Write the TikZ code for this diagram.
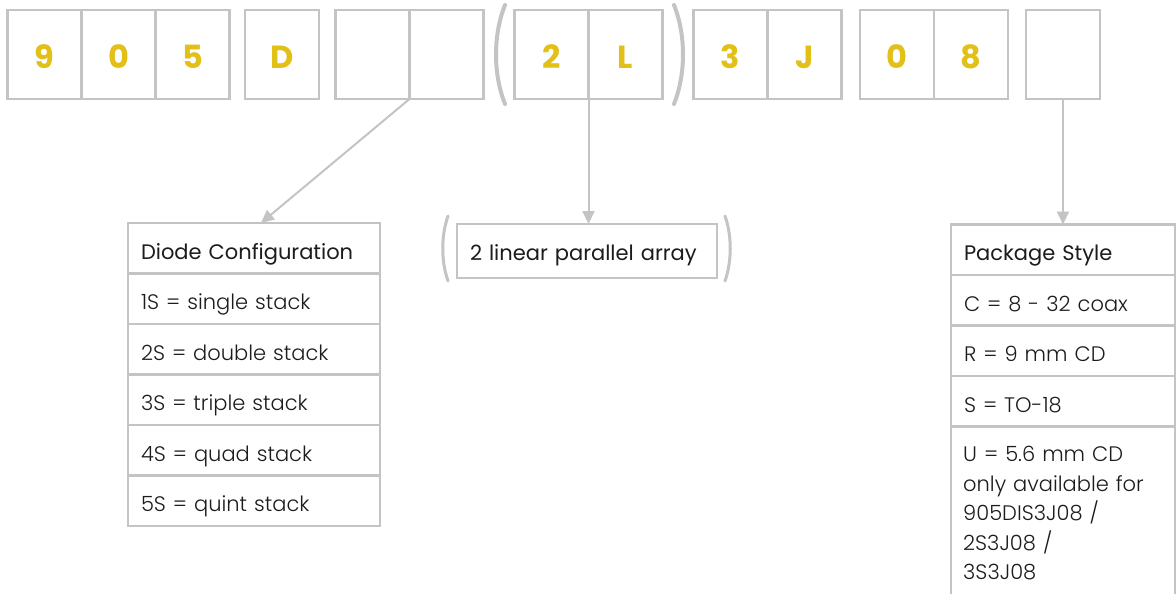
\documentclass[tikz,border=0pt]{standalone}
\usepackage{fontspec}
\setmainfont{Poppins}
\newfontfamily\lightf{Poppins Light}
\usetikzlibrary{arrows.meta}
\definecolor{lg}{RGB}{196,196,196}
\definecolor{yel}{RGB}{226,192,24}
\definecolor{txt}{RGB}{28,28,28}
\begin{document}
\begin{tikzpicture}[x=1pt,y=-1pt,
  cell/.style={draw=lg,line width=2.5pt,minimum width=74pt,minimum height=89pt,inner sep=0pt,outer sep=0pt,
    text height=29pt,text depth=0pt,
    font=\fontsize{32}{34}\selectfont\bfseries,text=yel},
  trow/.style={draw=lg,line width=2.5pt,minimum height=50.5pt,inner xsep=13pt,inner ysep=0pt,outer sep=0pt,
    text width=#1,align=left,text height=30pt,text depth=8.5pt,text=txt,anchor=north west,
    font=\lightf\fontsize{21}{25}\selectfont},
  thead/.style={trow=#1,font=\fontsize{21}{25}\selectfont},
  conn/.style={draw=lg,line width=2pt,-{Triangle[length=13pt,width=12pt]}},
  paren/.style={draw=lg,line width=4pt,line cap=round},
  sparen/.style={draw=lg,line width=3pt,line cap=round}]
\clip (0,0) rectangle (1176,594);
\fill[white] (0,0) rectangle (1176,594);
% top code cells
\node[cell] (c9) at (44.5,54.5) {9};
\node[cell] (c0) at (118.5,54.5) {0};
\node[cell] (c5) at (192.5,54.5) {5};
\node[cell] (cD) at (282,54.5) {D};
\node[cell] (e1) at (372.5,54.5) {};
\node[cell] (e2) at (446.5,54.5) {};
\node[cell] (c2) at (551.5,54.5) {2};
\node[cell] (cL) at (625.5,54.5) {L};
\node[cell] (c3) at (730.5,54.5) {3};
\node[cell] (cJ) at (804.5,54.5) {J};
\node[cell] (c0b) at (897,54.5) {0};
\node[cell] (c8) at (971,54.5) {8};
\node[cell] (ee) at (1063,54.5) {};
% big parentheses
\draw[paren] (505,5) .. controls (493,35) and (493,74) .. (505,104);
\draw[paren] (674,5) .. controls (686,35) and (686,74) .. (674,104);
% diode configuration table
\node[thead=226pt] (dh) at (128,223) {Diode Configuration};
\node[trow=226pt] (d1) at (dh.south west) {1S = single stack};
\node[trow=226pt] (d2) at (d1.south west) {2S = double stack};
\node[trow=226pt] (d3) at (d2.south west) {3S = triple stack};
\node[trow=226pt] (d4) at (d3.south west) {4S = quad stack};
\node[trow=226pt] (d5) at (d4.south west) {5S = quint stack};
% middle box
\node[thead=234pt,minimum height=54pt,text height=26pt,text depth=8pt] (mid) at (457,224) {2 linear parallel array};
\draw[sparen] (448,216) .. controls (441,236) and (441,261) .. (448,281);
\draw[sparen] (725,216) .. controls (732,236) and (732,261) .. (725,281);
% package style table
\node[thead=198pt] (ph) at (951,224.5) {Package Style};
\node[trow=198pt] (p1) at (ph.south west) {C = 8 - 32 coax};
\node[trow=198pt] (p2) at (p1.south west) {R = 9 mm CD};
\node[trow=198pt] (p3) at (p2.south west) {S = TO-18};
\draw[draw=lg,line width=2.5pt] (p3.south west) -- ++(0,200) ;
\draw[draw=lg,line width=2.5pt] (p3.south east) -- ++(0,200) ;
\node[anchor=base west,inner sep=0pt,text=txt,text width=200pt,align=left,
  font=\lightf\fontsize{21}{29.5}\selectfont] (p4) at (963,461.5)
  {U = 5.6 mm CD\\only available for\\905DIS3J08 /\\2S3J08 /\\3S3J08};
% connectors
\coordinate (a1) at (261,223);
\draw[conn] (e1.south east) -- (a1);
\draw[conn] (cL.south west) -- (cL.south west |- mid.north);
\draw[conn] (ee.south) -- (ee.south |- ph.north);
\end{tikzpicture}
\end{document}
